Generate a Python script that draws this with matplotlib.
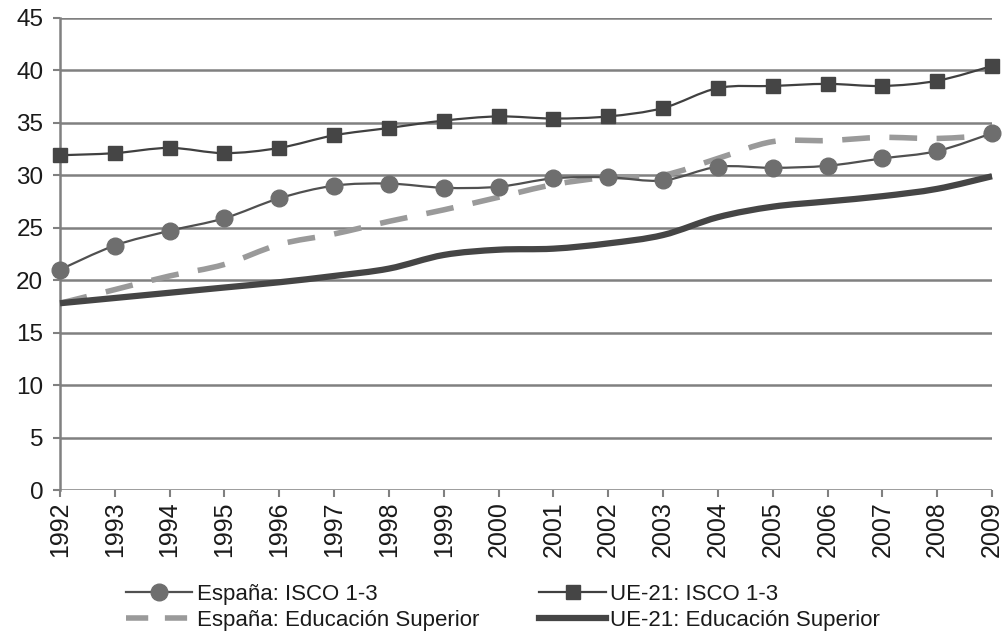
import matplotlib.pyplot as plt
import numpy as np
from matplotlib.path import Path
from matplotlib.patches import PathPatch
from matplotlib.lines import Line2D

plt.rcParams['font.family'] = ['Liberation Sans', 'DejaVu Sans']

years = list(range(1992, 2010))
esp_isco = [21.0, 23.3, 24.7, 25.9, 27.8, 29.0, 29.2, 28.8, 28.9, 29.7, 29.8, 29.5, 30.8, 30.7, 30.9, 31.6, 32.3, 34.0]
ue_isco = [31.9, 32.1, 32.6, 32.1, 32.6, 33.8, 34.5, 35.2, 35.6, 35.4, 35.6, 36.4, 38.3, 38.5, 38.7, 38.5, 39.0, 40.4]
esp_edu = [17.8, 19.1, 20.4, 21.5, 23.4, 24.4, 25.6, 26.7, 27.9, 29.1, 29.8, 30.0, 31.6, 33.2, 33.3, 33.6, 33.5, 33.8]
ue_edu = [17.8, 18.3, 18.8, 19.3, 19.8, 20.4, 21.1, 22.4, 22.9, 23.0, 23.5, 24.3, 26.0, 27.0, 27.5, 28.0, 28.7, 29.9]

labels = ['España: ISCO 1-3', 'UE-21: ISCO 1-3',
          'España: Educación Superior', 'UE-21: Educación Superior']


def smooth_path(x, y):
    # smoothed line like a spreadsheet chart: cubic bezier through every point
    p = np.column_stack([x, y]).astype(float)
    verts = [p[0]]
    codes = [Path.MOVETO]
    n = len(p)
    for i in range(n - 1):
        p0 = p[i - 1] if i > 0 else p[i]
        p3 = p[i + 2] if i + 2 < n else p[i + 1]
        c1 = p[i] + (p[i + 1] - p0) / 6
        c2 = p[i + 1] - (p3 - p[i]) / 6
        verts += [c1, c2, p[i + 1]]
        codes += [Path.CURVE4] * 3
    return Path(verts, codes)


fig = plt.figure(figsize=(10.06, 6.34), dpi=100)
ax = fig.add_axes([0.0596, 0.227, 0.9265, 0.745])

grid_col = '#808080'
c_circ = '#6e6e6e'
c_dark = '#454545'
c_dash = '#9a9a9a'

ax.add_patch(PathPatch(smooth_path(years, esp_edu), fill=False, edgecolor=c_dash,
                       lw=4, linestyle=(0, (5, 3.5)), zorder=3, clip_on=False))
ax.add_patch(PathPatch(smooth_path(years, ue_edu), fill=False, edgecolor=c_dark,
                       lw=4.5, zorder=3, clip_on=False))
ax.add_patch(PathPatch(smooth_path(years, esp_isco), fill=False, edgecolor='#505050',
                       lw=1.6, zorder=4, clip_on=False))
ax.add_patch(PathPatch(smooth_path(years, ue_isco), fill=False, edgecolor='#404040',
                       lw=1.6, zorder=4, clip_on=False))
ax.plot(years, esp_isco, linestyle='none', marker='o', ms=12, color=c_circ, zorder=5, clip_on=False)
ax.plot(years, ue_isco, linestyle='none', marker='s', ms=10.5, color=c_dark, zorder=5, clip_on=False)

ax.set_xlim(1992, 2009)
ax.set_ylim(0, 45)
ax.set_yticks(range(0, 46, 5))
ax.set_xticks(years)
ax.set_xticklabels([str(y) for y in years], rotation=90)
ax.yaxis.grid(True, color=grid_col, lw=1.8)
ax.set_axisbelow(True)
for s in ['top', 'right', 'bottom']:
    ax.spines[s].set_visible(False)
ax.spines['left'].set_color(grid_col)
ax.spines['left'].set_linewidth(1.8)
ax.tick_params(axis='both', colors=grid_col, labelcolor='#1a1a1a', labelsize=17.5,
               length=5, width=1.5)
ax.tick_params(axis='x', pad=3, labelsize=18)
ax.tick_params(axis='y', pad=7)

handles = [
    Line2D([], [], color='#505050', lw=1.6, marker='o', ms=12, markerfacecolor=c_circ, markeredgecolor=c_circ),
    Line2D([], [], color=c_dash, lw=4, linestyle=(0, (4, 3))),
    Line2D([], [], color='#404040', lw=1.6, marker='s', ms=10.5, markerfacecolor=c_dark, markeredgecolor=c_dark),
    Line2D([], [], color=c_dark, lw=4.5),
]
leg_labels = [labels[0], labels[2], labels[1], labels[3]]
fig.legend(handles, leg_labels, ncol=2, loc='center', bbox_to_anchor=(0.5, 0.042),
           frameon=False, fontsize=16, handlelength=3.0, handletextpad=0.2,
           columnspacing=2.7, labelspacing=0.25, labelcolor='#1a1a1a')

plt.savefig('out.png', dpi=100)
plt.close()
